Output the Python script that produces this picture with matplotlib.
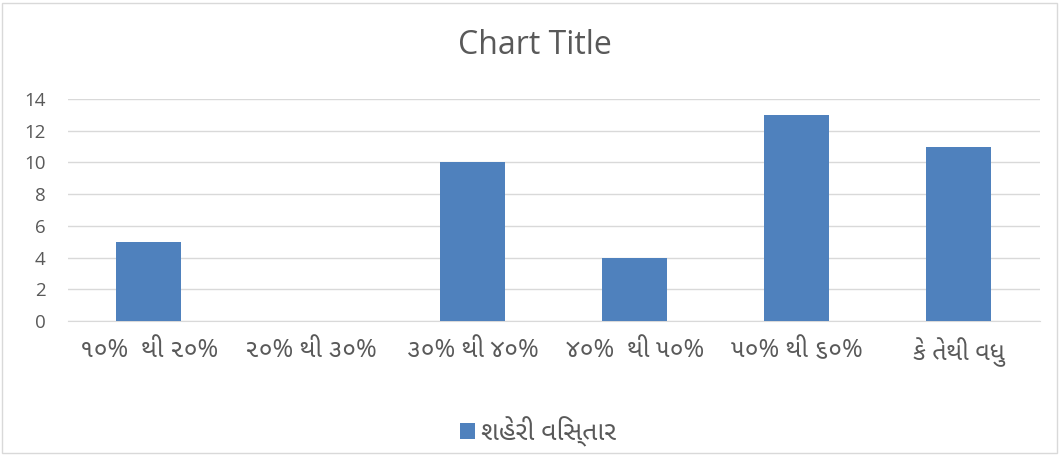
import matplotlib
matplotlib.use("Agg")
import matplotlib.pyplot as plt
from matplotlib import font_manager
from matplotlib.patches import Rectangle

# --- Data ---
categories = ["૧૦%  થી ૨૦%", "૨૦% થી ૩૦%", "૩૦% થી ૪૦%",
              "૪૦%  થી ૫૦%", "૫૦% થી ૬૦%", "કે તેથી વધુ"]
values = [5, 0, 10, 4, 13, 11]
series_name = "શહેરી વિસ્તાર"
yticks = [0, 2, 4, 6, 8, 10, 12, 14]


# find installed fonts that have Gujarati glyphs, prefer a sans one
def gujarati_family():
    try:
        from fontTools.ttLib import TTFont
    except Exception:
        return None
    found = []
    for f in font_manager.fontManager.ttflist:
        try:
            tt = TTFont(f.fname, fontNumber=0, lazy=True)
            if 0x0AA5 in tt.getBestCmap():
                found.append(f.name)
        except Exception:
            continue
    if not found:
        return None
    def rank(n):
        n = n.lower()
        if 'mono' in n:
            return 3
        if 'sans' in n or 'lohit' in n:
            return 0
        if 'serif' in n:
            return 2
        return 1
    found.sort(key=rank)
    return found[0]


guj = gujarati_family()
base = ["Open Sans", "DejaVu Sans"]
guj_fam = ["Open Sans"] + ([guj] if guj else []) + ["DejaVu Sans"]
plt.rcParams['font.family'] = base

bar_color = "#4f81bd"
text_color = "#595959"
grid_color = "#d9d9d9"

fig = plt.figure(figsize=(10.6, 4.55), dpi=100)
ax = fig.add_axes([0.064, 0.2945, 0.917, 0.488])

x = range(len(categories))
ax.bar(x, values, width=0.4, color=bar_color, label=series_name, zorder=3)

ax.set_ylim(0, 14)
ax.set_xlim(-0.5, len(categories) - 0.5)
ax.set_yticks(yticks)
ax.set_yticklabels([str(v) for v in yticks], fontsize=13.5, color=text_color)
ax.set_xticks(list(x))
ax.set_xticklabels(categories, fontsize=18, color=text_color, family=guj_fam)
ax.tick_params(axis='both', length=0)
ax.tick_params(axis='y', pad=16)
ax.tick_params(axis='x', pad=12)
ax.grid(axis='y', color=grid_color, linewidth=1, zorder=0)
for s in ['top', 'right', 'left']:
    ax.spines[s].set_visible(False)
ax.spines['bottom'].set_color(grid_color)

fig.text(0.505, 0.9, "Chart Title", ha='center', va='center', fontsize=23, color=text_color)

fig.legend(loc='center', bbox_to_anchor=(0.508, 0.052), frameon=False,
           handlelength=0.55, handleheight=0.55, handletextpad=0.25,
           prop={'size': 19, 'family': guj_fam}, labelcolor=text_color)

# outer border of the chart area
fig.patches.append(Rectangle((0.002, 0.004), 0.995, 0.99, transform=fig.transFigure,
                             fill=False, edgecolor="#d9d9d9", linewidth=1))

fig.savefig("out.png", dpi=100)
